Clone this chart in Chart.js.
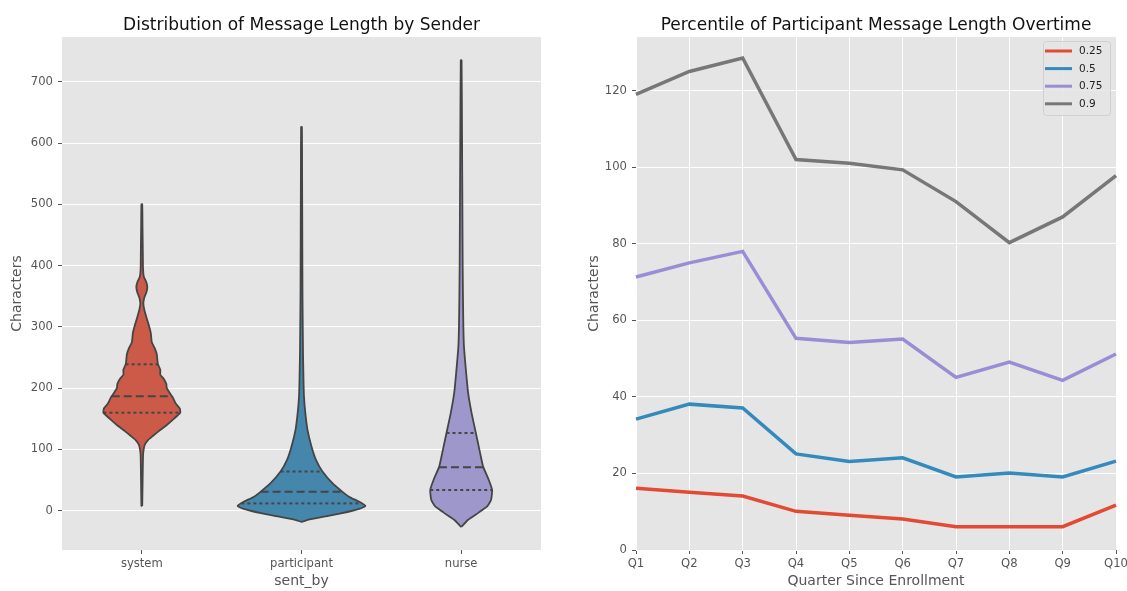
<!DOCTYPE html>
<html>
<head>
<meta charset="utf-8">
<script src="https://cdn.jsdelivr.net/npm/chart.js@4/dist/chart.umd.min.js"></script>
<style>
  html, body { margin: 0; padding: 0; background: #ffffff; }
  .panel { position: absolute; top: 0; height: 591px; }
</style>
</head>
<body>
<div class="panel" style="left:0px;width:560px;"><canvas id="violin"></canvas></div>
<div class="panel" style="left:570px;width:557px;"><canvas id="lines"></canvas></div>
<script>
// ---------- Data: violin plot ----------
const senders = ['system', 'participant', 'nurse'];

// estimated density profiles (value in characters, relative density)
const systemVals = [8, 50, 90, 100, 108, 115, 122, 130, 140, 150, 160, 167, 175, 185, 192, 200, 207, 215, 222, 230, 240, 255, 265, 275, 290, 300, 316, 328, 338, 348, 356, 365, 373, 382, 395, 420, 460, 500];
const systemDens = [0.4, 0.8, 1.2, 1.8, 3, 6, 11, 17, 25, 32, 38.5, 38, 34, 31, 28, 25, 24.5, 22, 18.5, 18.5, 16, 15, 13, 10, 9, 7.5, 4.5, 2.5, 1.5, 2.5, 4.5, 5.5, 4.5, 2, 1.2, 1, 0.7, 0.4];

const participantVals = [-18, -14, -8, -2, 3, 8, 15, 23, 30, 45, 64, 83, 105, 132, 160, 186, 213, 260, 350, 450, 550, 626];
const participantDens = [0.3, 8, 28, 46, 58, 64, 57.5, 47.5, 41.7, 31, 21, 14.5, 10, 6, 3.8, 2.5, 2, 1.5, 1, 0.8, 0.6, 0.4];

const nurseVals = [-26, -15, -3, 7, 18, 34, 51, 72, 94, 127, 159, 192, 225, 268, 300, 349, 400, 500, 600, 735];
const nurseDens = [0.3, 6.7, 17.5, 26, 30, 31, 27.5, 22, 19, 14.7, 10.5, 7, 5, 2.8, 2.2, 1.8, 1.5, 1.2, 0.9, 0.4];

// quartiles [Q1, median, Q3]
const systemQuartiles = [160, 187, 239];
const participantQuartiles = [12, 31, 64];
const nurseQuartiles = [34, 71, 127];

const violinTicks = [0, 100, 200, 300, 400, 500, 600, 700];

// ---------- Data: percentile lines ----------
const quarters = ['Q1', 'Q2', 'Q3', 'Q4', 'Q5', 'Q6', 'Q7', 'Q8', 'Q9', 'Q10'];
const pct25 = [16.1, 15.1, 14.1, 10.1, 9.1, 8.1, 6.1, 6.1, 6.1, 11.7];
const pct50 = [34.2, 38.1, 37.1, 25.1, 23.1, 24.1, 19.1, 20.1, 19.1, 23.2];
const pct75 = [71.3, 75.0, 78.0, 55.3, 54.2, 55.1, 45.1, 49.1, 44.3, 51.2];
const pct90 = [119.0, 125.0, 128.5, 102.0, 101.0, 99.3, 91.0, 80.3, 87.0, 97.8];
const lineTicks = [0, 20, 40, 60, 80, 100, 120];

// ---------- shared styling ----------
const FONT = 'DejaVu Sans, Liberation Sans, sans-serif';
const TICK_COLOR = '#555555';
const PANEL_BG = '#E5E5E5';
const TICK_SIZE = 11.6;
const LABEL_SIZE = 14;
const TITLE_SIZE = 17;

const panelBg = {
  id: 'panelBg',
  beforeDraw(chart) {
    const a = chart.chartArea, ctx = chart.ctx;
    ctx.save();
    ctx.fillStyle = PANEL_BG;
    ctx.fillRect(a.left, a.top, a.right - a.left, a.bottom - a.top);
    ctx.restore();
  }
};

// axes title centred over the plotting area (as matplotlib does)
const areaTitle = {
  id: 'areaTitle',
  afterDraw(chart, args, opts) {
    const a = chart.chartArea, ctx = chart.ctx;
    ctx.save();
    ctx.font = TITLE_SIZE + 'px ' + FONT;
    ctx.fillStyle = '#111111';
    ctx.textAlign = 'center';
    ctx.textBaseline = 'alphabetic';
    ctx.fillText(opts.text, (a.left + a.right) / 2, 29.5);
    ctx.restore();
  }
};

function fixX(s) { s.height = 41; s.paddingLeft = 0; s.paddingRight = 0; }

// ---------- build violins ----------
const violinFill = ['#CC5A49', '#4586AC', '#9E97CC'];
const OUTLINE = '#454545';
const profiles = [
  {vals: systemVals, dens: systemDens, q: systemQuartiles},
  {vals: participantVals, dens: participantDens, q: participantQuartiles},
  {vals: nurseVals, dens: nurseDens, q: nurseQuartiles}
];
const maxDens = Math.max(...profiles.map(p => Math.max(...p.dens)));
const halfScale = 0.4 / maxDens;

function densAt(p, v) {
  for (let i = 0; i < p.vals.length - 1; i++) {
    if (v >= p.vals[i] && v <= p.vals[i + 1]) {
      const t = (v - p.vals[i]) / (p.vals[i + 1] - p.vals[i]);
      return p.dens[i] + t * (p.dens[i + 1] - p.dens[i]);
    }
  }
  return 0;
}

const violinDatasets = [];
profiles.forEach((p, i) => {
  const pts = [];
  for (let k = 0; k < p.vals.length; k++) pts.push({x: i + p.dens[k] * halfScale, y: p.vals[k]});
  for (let k = p.vals.length - 1; k >= 0; k--) pts.push({x: i - p.dens[k] * halfScale, y: p.vals[k]});
  pts.push(pts[0]);
  violinDatasets.push({
    label: senders[i],
    data: pts,
    showLine: true,
    fill: 'shape',
    backgroundColor: violinFill[i],
    borderColor: OUTLINE,
    borderWidth: 1.8,
    pointRadius: 0,
    tension: 0.15,
    order: 2
  });
  p.q.forEach((qv, j) => {
    const hw = densAt(p, qv) * halfScale;
    violinDatasets.push({
      label: senders[i] + ' q' + j,
      data: [{x: i - hw, y: qv}, {x: i + hw, y: qv}],
      showLine: true,
      fill: false,
      borderColor: OUTLINE,
      borderWidth: 2,
      borderDash: j === 1 ? [8, 4] : [3, 3],
      pointRadius: 0,
      order: 1
    });
  });
});

new Chart(document.getElementById('violin'), {
  type: 'scatter',
  data: {datasets: violinDatasets},
  options: {
    responsive: true,
    maintainAspectRatio: false,
    animation: false,
    devicePixelRatio: 1,
    layout: {padding: {left: 0, right: 19, top: 37, bottom: 0}},
    plugins: {
      legend: {display: false},
      tooltip: {enabled: false},
      title: {display: false},
      areaTitle: {text: 'Distribution of Message Length by Sender'}
    },
    scales: {
      x: {
        type: 'linear',
        min: -0.5, max: 2.5,
        afterBuildTicks: s => { s.ticks = senders.map((_, i) => ({value: i})); },
        afterFit: fixX,
        border: {display: false},
        grid: {color: 'rgba(0,0,0,0)', tickColor: TICK_COLOR, tickLength: 4, lineWidth: 1},
        ticks: {
          color: TICK_COLOR, font: {family: FONT, size: TICK_SIZE}, padding: 3,
          callback: v => senders[Math.round(v)]
        },
        title: {display: true, text: 'sent_by', color: TICK_COLOR, font: {family: FONT, size: LABEL_SIZE}, padding: {top: 0, bottom: 1}}
      },
      y: {
        type: 'linear',
        min: -64, max: 773,
        afterBuildTicks: s => { s.ticks = violinTicks.map(v => ({value: v})); },
        afterFit: s => { s.width = 62; },
        border: {display: false},
        grid: {color: '#ffffff', tickColor: TICK_COLOR, tickLength: 4, lineWidth: 1},
        ticks: {color: TICK_COLOR, font: {family: FONT, size: TICK_SIZE}, padding: 5},
        title: {display: true, text: 'Characters', color: TICK_COLOR, font: {family: FONT, size: LABEL_SIZE}, padding: {top: 9, bottom: 0}}
      }
    }
  },
  plugins: [panelBg, areaTitle]
});

// ---------- percentile chart ----------
const lineColors = ['#E24A33', '#348ABD', '#988ED5', '#777777'];
const lineSeries = [
  {label: '0.25', data: pct25},
  {label: '0.5', data: pct50},
  {label: '0.75', data: pct75},
  {label: '0.9', data: pct90}
];

const boxLegend = {
  id: 'boxLegend',
  afterDatasetsDraw(chart) {
    const a = chart.chartArea, ctx = chart.ctx;
    const w = 67, h = 74;
    const x0 = a.right - 6 - w, y0 = a.top + 4;
    ctx.save();
    ctx.beginPath();
    if (ctx.roundRect) ctx.roundRect(x0 + 0.5, y0 + 0.5, w, h, 3); else ctx.rect(x0 + 0.5, y0 + 0.5, w, h);
    ctx.fillStyle = 'rgba(229,229,229,0.85)';
    ctx.fill();
    ctx.strokeStyle = 'rgba(204,204,204,0.85)';
    ctx.lineWidth = 1;
    ctx.stroke();
    ctx.font = '10.5px ' + FONT;
    ctx.textBaseline = 'middle';
    ctx.textAlign = 'left';
    chart.data.datasets.forEach((ds, i) => {
      const yy = y0 + 10 + i * 17.6;
      ctx.beginPath();
      ctx.moveTo(x0 + 2, yy);
      ctx.lineTo(x0 + 29, yy);
      ctx.strokeStyle = ds.borderColor;
      ctx.lineWidth = 3;
      ctx.stroke();
      ctx.fillStyle = '#222222';
      ctx.fillText(ds.label, x0 + 36, yy + 0.5);
    });
    ctx.restore();
  }
};

new Chart(document.getElementById('lines'), {
  type: 'line',
  data: {
    labels: quarters,
    datasets: lineSeries.map((s, i) => ({
      label: s.label,
      data: s.data,
      borderColor: lineColors[i],
      backgroundColor: lineColors[i],
      borderWidth: 3.5,
      pointRadius: 0,
      tension: 0,
      fill: false,
      order: 4 - i
    }))
  },
  options: {
    responsive: true,
    maintainAspectRatio: false,
    animation: false,
    devicePixelRatio: 1,
    layout: {padding: {left: 0, right: 11, top: 37, bottom: 0}},
    plugins: {
      legend: {display: false},
      tooltip: {enabled: false},
      title: {display: false},
      areaTitle: {text: 'Percentile of Participant Message Length Overtime'}
    },
    scales: {
      x: {
        type: 'category',
        offset: false,
        afterFit: fixX,
        border: {display: false},
        grid: {color: '#ffffff', tickColor: TICK_COLOR, tickLength: 4, lineWidth: 1},
        ticks: {color: TICK_COLOR, font: {family: FONT, size: TICK_SIZE}, padding: 3, maxRotation: 0, autoSkip: false},
        title: {display: true, text: 'Quarter Since Enrollment', color: TICK_COLOR, font: {family: FONT, size: LABEL_SIZE}, padding: {top: 0, bottom: 1}}
      },
      y: {
        type: 'linear',
        min: 0, max: 134,
        afterBuildTicks: s => { s.ticks = lineTicks.map(v => ({value: v})); },
        afterFit: s => { s.width = 66; },
        border: {display: false},
        grid: {color: '#ffffff', tickColor: TICK_COLOR, tickLength: 4, lineWidth: 1},
        ticks: {color: TICK_COLOR, font: {family: FONT, size: TICK_SIZE}, padding: 5},
        title: {display: true, text: 'Characters', color: TICK_COLOR, font: {family: FONT, size: LABEL_SIZE}, padding: {top: 15.6, bottom: 0}}
      }
    }
  },
  plugins: [panelBg, areaTitle, boxLegend]
});
</script>
</body>
</html>
